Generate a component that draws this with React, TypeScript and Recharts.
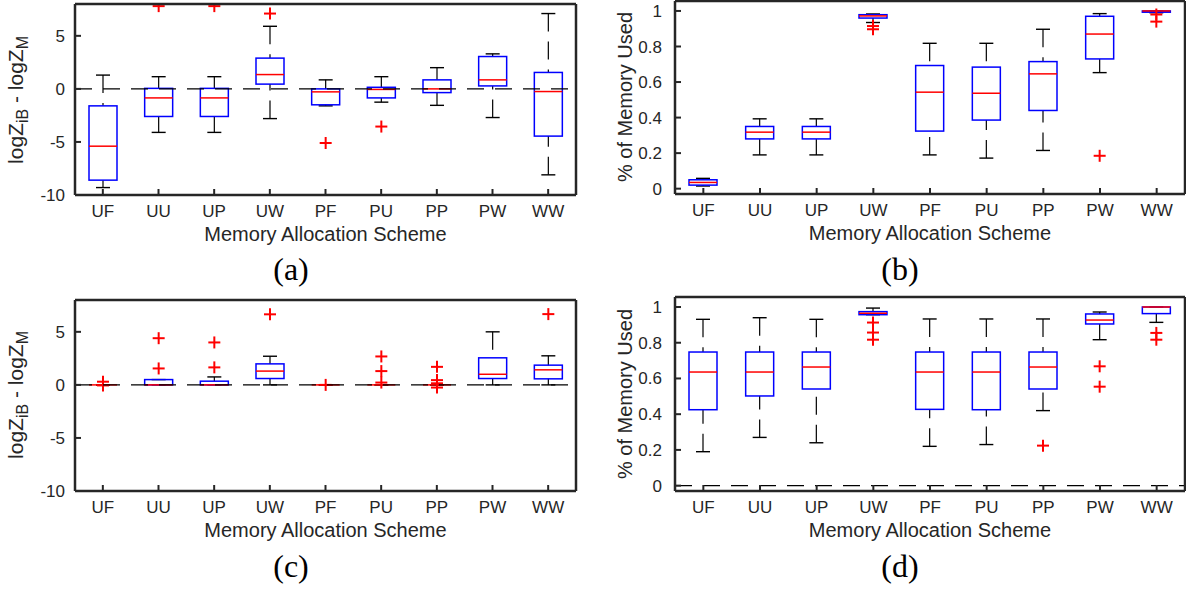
import React from "react";
import { ComposedChart, Bar, XAxis, YAxis, ReferenceLine } from "recharts";

const schemes = ["UF", "UU", "UP", "UW", "PF", "PU", "PP", "PW", "WW"];

// (a) logZ_iB - logZ_M, first setting
const aLow = [-9.3, -4.1, -4.1, -2.8, -1.6, -1.25, -1.55, -2.7, -8.1];
const aQ1 = [-8.6, -2.6, -2.6, 0.45, -1.5, -0.85, -0.35, 0.28, -4.45];
const aMed = [-5.4, -0.85, -0.85, 1.35, -0.28, -0.05, 0, 0.85, -0.25];
const aQ3 = [-1.6, 0.05, 0.05, 2.9, 0, 0.15, 0.85, 3.05, 1.55];
const aHigh = [1.3, 1.15, 1.15, 5.9, 0.85, 1.15, 2.0, 3.3, 7.1];
const aOut = [[], [7.8], [7.8], [7.1], [-5.1], [-3.55], [], [], []];

// (b) % of memory used, first setting
const bLow = [0.015, 0.19, 0.19, 0.935, 0.19, 0.172, 0.215, 0.653, 0.99];
const bQ1 = [0.02, 0.28, 0.28, 0.96, 0.324, 0.386, 0.44, 0.73, 0.993];
const bMed = [0.035, 0.318, 0.318, 0.972, 0.543, 0.537, 0.646, 0.87, 1.0];
const bQ3 = [0.05, 0.35, 0.35, 0.979, 0.693, 0.684, 0.715, 0.97, 1.0];
const bHigh = [0.058, 0.393, 0.393, 0.983, 0.818, 0.818, 0.897, 0.985, 1.0];
const bOut = [[], [], [], [0.915, 0.897], [], [], [], [0.185], [0.98, 0.94]];

// (c) logZ_iB - logZ_M, second setting
const cLow = [0, 0, 0, 0, 0, 0, 0, 0, 0];
const cQ1 = [0, 0, 0, 0.6, 0, 0, 0, 0.6, 0.57];
const cMed = [0, 0, 0, 1.3, 0, 0, 0, 1.0, 1.42];
const cQ3 = [0, 0.5, 0.35, 1.98, 0, 0, 0, 2.55, 1.86];
const cHigh = [0, 0.5, 0.75, 2.7, 0, 0, 0, 5.0, 2.74];
const cOut = [[0.3, -0.05], [4.4, 1.55], [4.0, 1.65], [6.65], [0], [2.68, 1.3, 0.22], [1.7, 0.45, 0.15, -0.25], [], [6.67]];

// (d) % of memory used, second setting
const dLow = [0.19, 0.27, 0.24, 0.957, 0.22, 0.23, 0.42, 0.817, 0.914];
const dQ1 = [0.425, 0.502, 0.541, 0.957, 0.427, 0.425, 0.541, 0.905, 0.963];
const dMed = [0.636, 0.636, 0.664, 0.965, 0.636, 0.636, 0.664, 0.927, 1.0];
const dQ3 = [0.748, 0.748, 0.748, 0.974, 0.748, 0.748, 0.748, 0.961, 1.0];
const dHigh = [0.931, 0.94, 0.931, 0.994, 0.933, 0.933, 0.933, 0.972, 1.0];
const dOut = [[], [], [], [0.913, 0.857, 0.817], [], [], [0.224], [0.668, 0.554], [0.855, 0.817]];

const logTicks = [-10, -5, 0, 5];
const memTicks = [0, 0.2, 0.4, 0.6, 0.8, 1];

const MAX_OUT = 4;
const ink = "#262626";
const sans = "'Liberation Sans', Arial, Helvetica, sans-serif";

type Row = Record<string, any>;

function buildRows(low: number[], q1: number[], med: number[], q3: number[], high: number[], out: number[][]): Row[] {
  return schemes.map((name, i) => {
    const row: Row = {
      name,
      lower: [low[i], q1[i]],
      upper: [q3[i], high[i]],
      box: [q1[i], q3[i]],
      median: [med[i], med[i]],
    };
    for (let k = 0; k < MAX_OUT; k++) {
      const v = out[i][k];
      row["o" + k] = v === undefined ? null : [v, v];
    }
    return row;
  });
}

const ok = (p: any) => [p.x, p.y, p.width, p.height].every((v) => Number.isFinite(v));

function whiskerShape(end: "low" | "high") {
  return (p: any) => {
    if (!ok(p)) return <g />;
    const cx = p.x + p.width / 2;
    const top = Math.min(p.y, p.y + p.height);
    const bot = Math.max(p.y, p.y + p.height);
    const capY = end === "high" ? top : bot;
    const boxY = end === "high" ? bot : top;
    return (
      <g>
        <line x1={cx} x2={cx} y1={capY} y2={boxY} stroke="#000" strokeWidth={1.2} strokeDasharray="18 10" />
        <line x1={cx - 7} x2={cx + 7} y1={capY} y2={capY} stroke="#000" strokeWidth={1.4} />
      </g>
    );
  };
}

const boxShape = (p: any) => {
  if (!ok(p)) return <g />;
  const top = Math.min(p.y, p.y + p.height);
  return <rect x={p.x} y={top} width={p.width} height={Math.abs(p.height)} fill="none" stroke="#0000ff" strokeWidth={1.5} />;
};

const medianShape = (p: any) => {
  if (!ok(p)) return <g />;
  return <line x1={p.x} x2={p.x + p.width} y1={p.y} y2={p.y} stroke="#ff0000" strokeWidth={1.5} />;
};

function outlierShape(key: string) {
  return (p: any) => {
    if (!ok(p) || !p.payload || p.payload[key] == null) return <g />;
    const cx = p.x + p.width / 2;
    const cy = p.y;
    return (
      <g stroke="#ff0000" strokeWidth={2}>
        <line x1={cx - 6} x2={cx + 6} y1={cy} y2={cy} />
        <line x1={cx} x2={cx} y1={cy - 6} y2={cy + 6} />
      </g>
    );
  };
}

interface PanelProps {
  rows: Row[];
  domain: [number, number];
  ticks: number[];
  left: number;
  top: number;
  width: number;
  height: number;
  // plot-area edges in chart coordinates
  plot: { top: number; right: number; bottom: number; left: number };
  yTickMargin: number;
  zeroLine: boolean;
}

const axisLine = { stroke: ink, strokeWidth: 2.5 };
const tickLine = { stroke: ink, strokeWidth: 2 };
const tickText = { fill: ink, fontSize: 17, fontFamily: sans };

function Panel(p: PanelProps) {
  // every axis is 1px thick, so margins are one less than the plot edges
  const margin = {
    top: p.plot.top - 1,
    left: p.plot.left - 1,
    right: p.width - p.plot.right - 1,
    bottom: p.height - p.plot.bottom - 1,
  };
  return (
    <div style={{ position: "absolute", left: p.left, top: p.top }}>
      <ComposedChart width={p.width} height={p.height} data={p.rows} margin={margin} barGap={-28}>
        <XAxis xAxisId="b" dataKey="name" orientation="bottom" height={1} interval={0}
          axisLine={axisLine} tickLine={tickLine} tickSize={-6} tickMargin={16} tick={tickText} />
        <XAxis xAxisId="t" dataKey="name" orientation="top" height={1} interval={0}
          axisLine={axisLine} tickLine={tickLine} tickSize={-6} tick={false} />
        <YAxis yAxisId="l" type="number" domain={p.domain} ticks={p.ticks} allowDataOverflow width={1}
          axisLine={axisLine} tickLine={tickLine} tickSize={-6} tickMargin={p.yTickMargin} tick={tickText} />
        <YAxis yAxisId="r" orientation="right" type="number" domain={p.domain} ticks={p.ticks} allowDataOverflow width={1}
          axisLine={axisLine} tickLine={tickLine} tickSize={-6} tick={false} />
        {p.zeroLine && (
          <ReferenceLine xAxisId="b" yAxisId="l" y={0} stroke="#000" strokeWidth={1.2} strokeDasharray="17 11" />
        )}
        <Bar xAxisId="b" yAxisId="l" dataKey="lower" barSize={28} shape={whiskerShape("low")} isAnimationActive={false} />
        <Bar xAxisId="b" yAxisId="l" dataKey="upper" barSize={28} shape={whiskerShape("high")} isAnimationActive={false} />
        <Bar xAxisId="b" yAxisId="l" dataKey="box" barSize={28} shape={boxShape} isAnimationActive={false} />
        <Bar xAxisId="b" yAxisId="l" dataKey="median" barSize={28} shape={medianShape} isAnimationActive={false} />
        {Array.from({ length: MAX_OUT }, (_, k) => (
          <Bar key={k} xAxisId="b" yAxisId="l" dataKey={"o" + k} barSize={28} shape={outlierShape("o" + k)} isAnimationActive={false} />
        ))}
      </ComposedChart>
    </div>
  );
}

const rowsA = buildRows(aLow, aQ1, aMed, aQ3, aHigh, aOut);
const rowsB = buildRows(bLow, bQ1, bMed, bQ3, bHigh, bOut);
const rowsC = buildRows(cLow, cQ1, cMed, cQ3, cHigh, cOut);
const rowsD = buildRows(dLow, dQ1, dMed, dQ3, dHigh, dOut);

function LogLabel({ x, y }: { x: number; y: number }) {
  return (
    <text transform={`translate(${x},${y}) rotate(-90)`} textAnchor="middle" fill={ink} fontFamily={sans} fontSize={21}>
      <tspan>logZ</tspan>
      <tspan dy={5} fontSize={16}>iB</tspan>
      <tspan dy={-5}> - logZ</tspan>
      <tspan dy={5} fontSize={16}>M</tspan>
    </text>
  );
}

function MemLabel({ x, y }: { x: number; y: number }) {
  return (
    <text transform={`translate(${x},${y}) rotate(-90)`} textAnchor="middle" fill={ink} fontFamily={sans} fontSize={20}>
      % of Memory Used
    </text>
  );
}

function Title({ x, y }: { x: number; y: number }) {
  return (
    <text x={x} y={y} textAnchor="middle" fill={ink} fontFamily={sans} fontSize={20}>
      Memory Allocation Scheme
    </text>
  );
}

function Caption({ x, y, t }: { x: number; y: number; t: string }) {
  return (
    <text x={x} y={y} textAnchor="middle" fill="#000" fontFamily="'Liberation Serif', 'Times New Roman', serif" fontSize={32}>
      {t}
    </text>
  );
}

export default function App() {
  return (
    <div style={{ position: "absolute", left: 0, top: 0, width: 1186, height: 592, background: "#fff", overflow: "hidden" }}>
      <Panel rows={rowsA} domain={[-10, 8]} ticks={logTicks} left={0} top={0} width={600} height={230}
        plot={{ top: 4, left: 75, right: 576, bottom: 195 }} yTickMargin={16} zeroLine />
      <Panel rows={rowsB} domain={[-0.03, 1.056]} ticks={memTicks} left={600} top={0} width={586} height={230}
        plot={{ top: 1, left: 75, right: 585, bottom: 194 }} yTickMargin={19} zeroLine={false} />
      <Panel rows={rowsC} domain={[-10, 8]} ticks={logTicks} left={0} top={290} width={600} height={230}
        plot={{ top: 10, left: 75, right: 576, bottom: 201 }} yTickMargin={16} zeroLine />
      <Panel rows={rowsD} domain={[-0.03, 1.056]} ticks={memTicks} left={600} top={290} width={586} height={230}
        plot={{ top: 7, left: 75, right: 585, bottom: 201 }} yTickMargin={19} zeroLine />
      <svg width={1186} height={592} style={{ position: "absolute", left: 0, top: 0, pointerEvents: "none" }}>
        <LogLabel x={23} y={100} />
        <MemLabel x={632} y={97} />
        <LogLabel x={23} y={395} />
        <MemLabel x={632} y={394} />
        <Title x={325.5} y={241} />
        <Title x={930} y={240} />
        <Title x={325.5} y={537} />
        <Title x={930} y={537} />
        <Caption x={291} y={280} t="(a)" />
        <Caption x={900} y={280} t="(b)" />
        <Caption x={291} y={577} t="(c)" />
        <Caption x={900} y={577} t="(d)" />
      </svg>
    </div>
  );
}
